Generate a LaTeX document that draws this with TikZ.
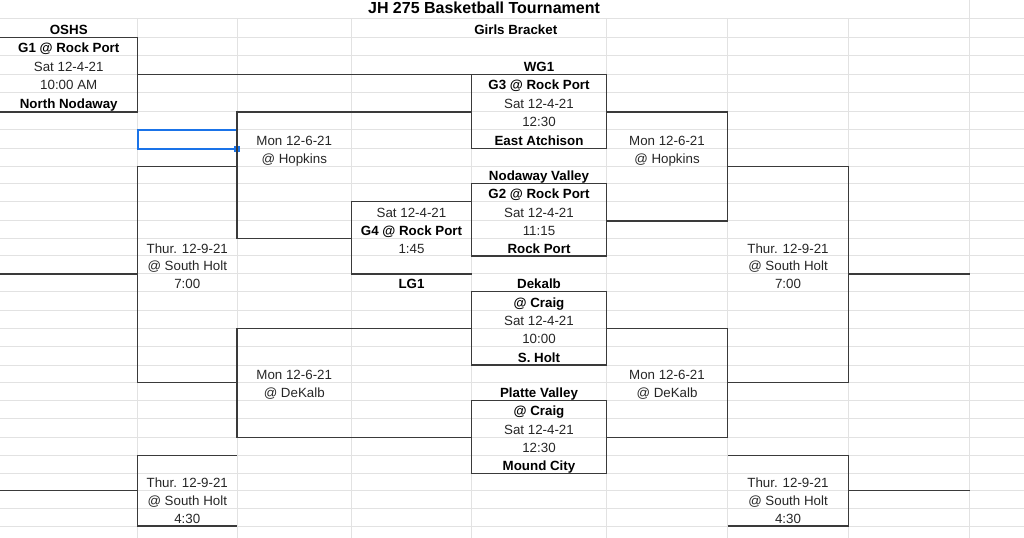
\documentclass[tikz,border=0pt]{standalone}
\usepackage{fontspec}
\setmainfont{Liberation Sans}
\definecolor{gridgray}{HTML}{E2E2E2}
\definecolor{linegray}{HTML}{3A3A3A}
\definecolor{selblue}{HTML}{1A73E8}
\tikzset{
	gridline/.style={draw=gridgray, line width=0.75pt},
	bracket/.style={draw=linegray, line width=0.9pt},
	txt/.style={anchor=base, inner sep=0pt, text=black!85, font=\fontsize{10}{12}\selectfont},
	bold/.style={txt, text=black, font=\fontsize{10}{12}\selectfont\bfseries}
}

\begin{document}
\begin{tikzpicture}[x=0.75pt, y=-0.75pt]
			\useasboundingbox (0,0) rectangle (1024,538);
			\coordinate (top) at (0,0);
			\coordinate (bot) at (0,538);
			\foreach \k/\y in {0/18.3, 1/37.3, 2/55.7, 3/74.7, 4/92.7, 5/112, 6/130, 7/148.7, 8/166.7, 9/183.3, 10/201.7, 11/221, 12/238.7, 13/256, 14/274, 15/291.7, 16/310, 17/328.7, 18/346.7, 19/365, 20/382.7, 21/400.7, 22/418.7, 23/437.7, 24/455.7, 25/473.3, 26/490.7, 27/508.3, 28/526}
				\coordinate (r\k) at (0,\y);
			\foreach \c/\x in {0/0, 1/137.5, 2/237, 3/351.5, 4/471.5, 5/606.5, 6/727.5, 7/848.5, 8/969.5, 9/1024}
				\coordinate (c\c) at (\x,0);
			\foreach \k in {0,...,28}
				\draw[gridline] (c0 |- r\k) -- (c9 |- r\k);
			\foreach \c in {1,2,3,5,6,7}
				\draw[gridline] (c\c |- r0) -- (c\c |- bot);
			\draw[gridline] (c4 |- r3) -- (c4 |- bot);
			\draw[gridline] (c8 |- top) -- (c8 |- bot);
			\draw[selblue, line width=1.5pt] (c1 |- r6) rectangle (c2 |- r7);
			\node[fill=selblue, inner sep=0pt, minimum size=4.5pt] (handle) at (c2 |- r7) {};
			\draw[bracket] (c0 |- r1) -- (c1 |- r1) -- (c1 |- r5) -- (c0 |- r5);
			\draw[bracket] (c1 |- r3) -- (c4 |- r3);
			\draw[bracket] (c4 |- r3) rectangle (c5 |- r7);
			\draw[bracket] (c4 |- r9) rectangle (c5 |- r13);
			\draw[bracket] (c4 |- r15) rectangle (c5 |- r19);
			\draw[bracket] (c4 |- r21) rectangle (c5 |- r25);
			\draw[bracket] (c4 |- r10) -- (c3 |- r10) -- (c3 |- r14) -- (c4 |- r14);
			\draw[bracket] (c4 |- r5) -- (c2 |- r5) -- (c2 |- r12) -- (c3 |- r12);
			\draw[bracket] (c4 |- r17) -- (c2 |- r17) -- (c2 |- r23) -- (c4 |- r23);
			\draw[bracket] (c2 |- r8) -- (c1 |- r8) -- (c1 |- r20) -- (c2 |- r20);
			\draw[bracket] (c0 |- r14) -- (c1 |- r14);
			\draw[bracket] (c2 |- r24) -- (c1 |- r24) -- (c1 |- r28) -- (c2 |- r28);
			\draw[bracket] (c0 |- r26) -- (c1 |- r26);
			\draw[bracket] (c5 |- r5) -- (c6 |- r5) -- (c6 |- r11) -- (c5 |- r11);
			\draw[bracket] (c5 |- r17) -- (c6 |- r17) -- (c6 |- r23) -- (c5 |- r23);
			\draw[bracket] (c6 |- r8) -- (c7 |- r8) -- (c7 |- r20) -- (c6 |- r20);
			\draw[bracket] (c7 |- r14) -- (c8 |- r14);
			\draw[bracket] (c6 |- r24) -- (c7 |- r24) -- (c7 |- r28) -- (c6 |- r28);
			\draw[bracket] (c7 |- r26) -- (c8 |- r26);
			\node[bold, font=\fontsize{12}{14}\selectfont\bfseries] (title) at (484,14) {JH 275 Basketball Tournament};
			\node[bold, anchor=base west] (girls) at (474,34.3) {Girls Bracket};
			\node[bold] (oshs) at (68.75,34.3) {OSHS};
			\node[bold] (gonegame) at (68.75,52.7) {G1 @ Rock Port};
			\node[txt] (gonedate) at (68.75,71.7) {Sat 12-4-21};
			\node[txt] (gonetime) at (68.75,89.7) {10:00 AM};
			\node[bold] (nnodaway) at (68.75,109) {North Nodaway};
			\node[bold] (wgone) at (539,71.7) {WG1};
			\node[bold] (gthreegame) at (539,89.7) {G3 @ Rock Port};
			\node[txt] (gthreedate) at (539,109) {Sat 12-4-21};
			\node[txt] (gthreetime) at (539,127) {12:30};
			\node[bold] (eatchison) at (539,145.7) {East Atchison};
			\node[bold] (nvalley) at (539,180.3) {Nodaway Valley};
			\node[bold] (gtwogame) at (539,198.7) {G2 @ Rock Port};
			\node[txt] (gtwodate) at (539,218) {Sat 12-4-21};
			\node[txt] (gtwotime) at (539,235.7) {11:15};
			\node[bold] (rockport) at (539,253) {Rock Port};
			\node[bold] (dekalb) at (539,288.7) {Dekalb};
			\node[bold] (craiga) at (539,307) {@ Craig};
			\node[txt] (craigadate) at (539,325.7) {Sat 12-4-21};
			\node[txt] (craigatime) at (539,343.7) {10:00};
			\node[bold] (sholt) at (539,362) {S. Holt};
			\node[bold] (pvalley) at (539,397.7) {Platte Valley};
			\node[bold] (craigb) at (539,415.7) {@ Craig};
			\node[txt] (craigbdate) at (539,434.7) {Sat 12-4-21};
			\node[txt] (craigbtime) at (539,452.7) {12:30};
			\node[bold] (mcity) at (539,470.3) {Mound City};
			\node[txt] (gfourdate) at (411.5,218) {Sat 12-4-21};
			\node[bold] (gfourgame) at (411.5,235.7) {G4 @ Rock Port};
			\node[txt] (gfourtime) at (411.5,253) {1:45};
			\node[bold] (lgone) at (411.5,288.7) {LG1};
			\node[txt] (hopkinsldate) at (294.25,145.7) {Mon 12-6-21};
			\node[txt] (hopkinsl) at (294.25,163.7) {@ Hopkins};
			\node[txt] (dekalbldate) at (294.25,379.7) {Mon 12-6-21};
			\node[txt] (dekalbl) at (294.25,397.7) {@ DeKalb};
			\node[txt] (hopkinsrdate) at (667,145.7) {Mon 12-6-21};
			\node[txt] (hopkinsr) at (667,163.7) {@ Hopkins};
			\node[txt] (dekalbrdate) at (667,379.7) {Mon 12-6-21};
			\node[txt] (dekalbr) at (667,397.7) {@ DeKalb};
			\node[txt] (sholtladate) at (187.25,253) {Thur. 12-9-21};
			\node[txt] (sholtla) at (187.25,271) {@ South Holt};
			\node[txt] (sholtlatime) at (187.25,288.7) {7:00};
			\node[txt] (sholtlbdate) at (187.25,487.7) {Thur. 12-9-21};
			\node[txt] (sholtlb) at (187.25,505.3) {@ South Holt};
			\node[txt] (sholtlbtime) at (187.25,523) {4:30};
			\node[txt] (sholtradate) at (788,253) {Thur. 12-9-21};
			\node[txt] (sholtra) at (788,271) {@ South Holt};
			\node[txt] (sholtratime) at (788,288.7) {7:00};
			\node[txt] (sholtrbdate) at (788,487.7) {Thur. 12-9-21};
			\node[txt] (sholtrb) at (788,505.3) {@ South Holt};
			\node[txt] (sholtrbtime) at (788,523) {4:30};
		\end{tikzpicture}
\end{document}
